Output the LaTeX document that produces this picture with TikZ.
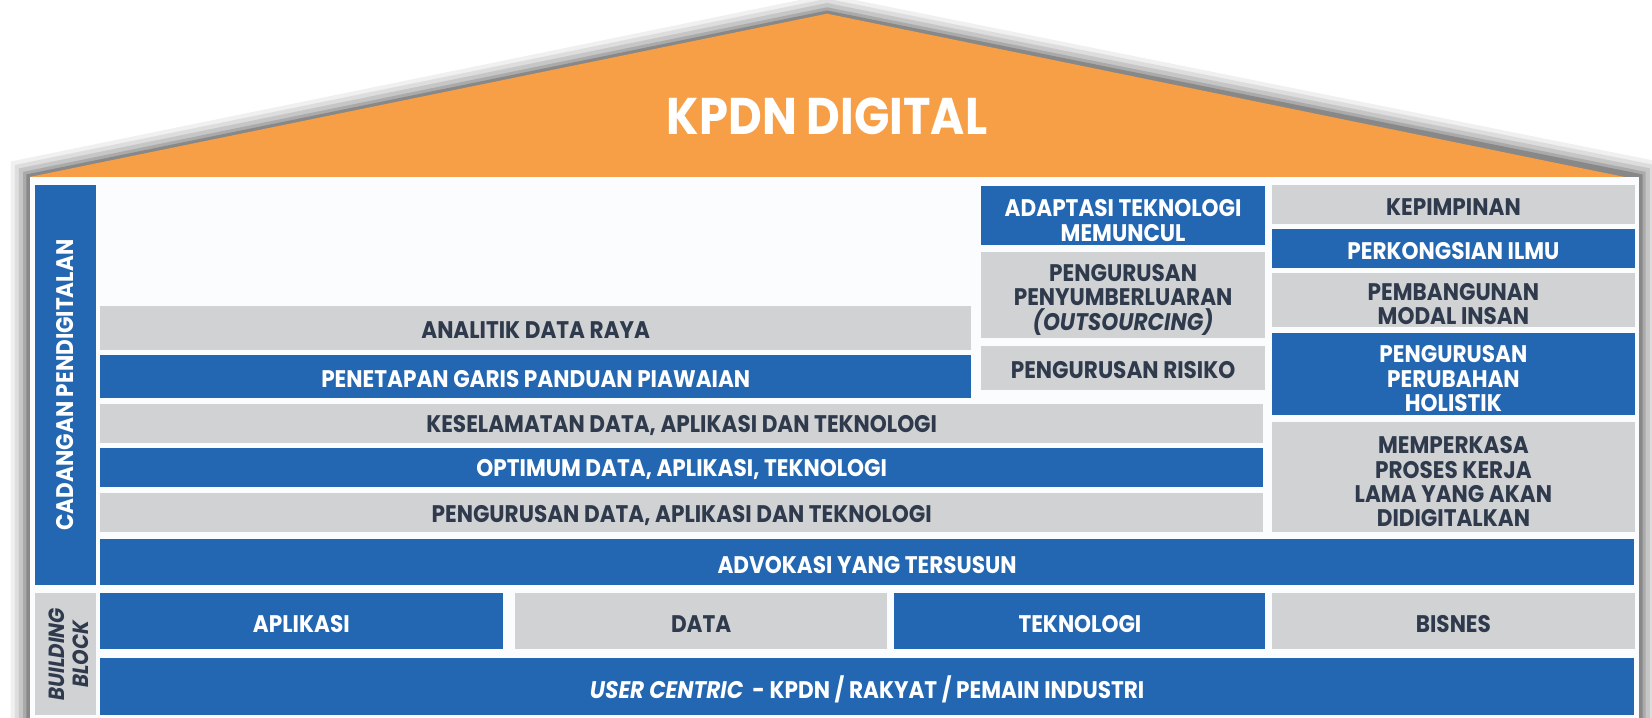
\documentclass[tikz,border=0pt]{standalone}
\usepackage{fontspec}
\setmainfont{Poppins}[FakeStretch=0.9]
\usetikzlibrary{fit}

\definecolor{kblue}{HTML}{2366B1}
\definecolor{kgrey}{HTML}{D1D2D4}
\definecolor{ktext}{HTML}{2F3B4D}
\definecolor{korange}{HTML}{F79F46}
\definecolor{kbody}{HTML}{FBFCFE}

\begin{document}
\begin{tikzpicture}[x=0.5268pt, y=-0.5268pt,
    bbox/.style = {rectangle, inner sep=0pt, fill=kblue},
    gbox/.style = {rectangle, inner sep=0pt, fill=kgrey},
    txt/.style = {inner sep=0pt, align=center, yshift=-1.3pt,
        font=\fontsize{12}{12.2}\selectfont\bfseries},
    wtxt/.style = {txt, text=white},
    gtxt/.style = {txt, text=ktext},
    multi/.style = {yshift=-1pt}]
    \useasboundingbox (0,0) rectangle (1568,681);
    \fill[white] (0,0) rectangle (1568,681);

    % shadow round the house
    \foreach \w/\o in {36/0.06, 28/0.08, 20/0.1, 12/0.14, 6/0.2}
        \draw[black, opacity=\o, line width=\w*0.5268pt, line join=miter]
            (28,700) -- (28,168) -- (785,13) -- (1556,168) -- (1556,700);

    % roof and body
    \fill[korange] (28,168) -- (785,13) -- (1542,168) -- cycle;
    \fill[kbody] (28,168) rectangle (1556,690);
    \node[text=white, font=\fontsize{25.8}{28}\selectfont\bfseries] (title) at (785,110) {KPDN DIGITAL};

    % left labels
    \node[bbox, fit={(33,176) (91,555)}] (cadangan) {};
    \node[white, rotate=90, font=\fontsize{12}{13}\selectfont\bfseries] at (cadangan.center) {CADANGAN PENDIGITALAN};
    \node[gbox, fit={(33,563) (91,679)}] (bb) {};
    \node[ktext, rotate=90, align=center, font=\fontsize{11}{12}\selectfont\bfseries\itshape] at ([xshift=1.8pt]bb.center) {BUILDING\\BLOCK};

    % middle blocks
    \node[gbox, fit={(95,290) (922,332)}] (analitik) {};
    \node[gtxt] at (analitik) {ANALITIK DATA RAYA};
    \node[bbox, fit={(95,337) (922,378)}] (penetapan) {};
    \node[wtxt] at (penetapan) {PENETAPAN GARIS PANDUAN PIAWAIAN};
    \node[bbox, fit={(931,177) (1201,233)}] (adaptasi) {};
    \node[wtxt, multi] at (adaptasi) {ADAPTASI TEKNOLOGI\\MEMUNCUL};
    \node[gbox, fit={(931,239) (1201,321)}] (outsrc) {};
    \node[gtxt, multi] at (outsrc) {PENGURUSAN\\PENYUMBERLUARAN\\\textit{(OUTSOURCING)}};
    \node[gbox, fit={(931,328) (1201,370)}] (risiko) {};
    \node[gtxt] at (risiko) {PENGURUSAN RISIKO};
    \node[gbox, fit={(95,383) (1199,420)}] (keselamatan) {};
    \node[gtxt] at (keselamatan) {KESELAMATAN DATA, APLIKASI DAN TEKNOLOGI};
    \node[bbox, fit={(95,425) (1199,462)}] (optimum) {};
    \node[wtxt] at (optimum) {OPTIMUM DATA, APLIKASI, TEKNOLOGI};
    \node[gbox, fit={(95,468) (1199,505)}] (pengdata) {};
    \node[gtxt] at (pengdata) {PENGURUSAN DATA, APLIKASI DAN TEKNOLOGI};

    % right column
    \node[gbox, fit={(1207,176) (1552,213)}] (kepimpinan) {};
    \node[gtxt] at (kepimpinan) {KEPIMPINAN};
    \node[bbox, fit={(1207,217) (1552,254)}] (ilmu) {};
    \node[wtxt] at (ilmu) {PERKONGSIAN ILMU};
    \node[gbox, fit={(1207,259) (1552,310)}] (modal) {};
    \node[gtxt, multi] at (modal) {PEMBANGUNAN\\MODAL INSAN};
    \node[bbox, fit={(1207,316) (1552,394)}] (holistik) {};
    \node[wtxt, multi] at (holistik) {PENGURUSAN\\PERUBAHAN\\HOLISTIK};
    \node[gbox, fit={(1207,401) (1552,505)}] (proses) {};
    \node[gtxt, multi] at (proses) {MEMPERKASA\\PROSES KERJA\\LAMA YANG AKAN\\DIDIGITALKAN};

    % base
    \node[bbox, fit={(95,512) (1551,555)}] (advokasi) {};
    \node[wtxt] at (advokasi) {ADVOKASI YANG TERSUSUN};
    \node[bbox, fit={(95,563) (477,616)}] (aplikasi) {};
    \node[wtxt] at (aplikasi) {APLIKASI};
    \node[gbox, fit={(489,563) (842,616)}] (data) {};
    \node[gtxt] at (data) {DATA};
    \node[bbox, fit={(849,563) (1201,616)}] (teknologi) {};
    \node[wtxt] at (teknologi) {TEKNOLOGI};
    \node[gbox, fit={(1207,563) (1552,616)}] (bisnes) {};
    \node[gtxt] at (bisnes) {BISNES};
    \node[bbox, fit={(95,625) (1551,679)}] (user) {};
    \node[wtxt] at (user) {\textit{USER CENTRIC}\ \ - KPDN / RAKYAT / PEMAIN INDUSTRI};
\end{tikzpicture}
\end{document}
